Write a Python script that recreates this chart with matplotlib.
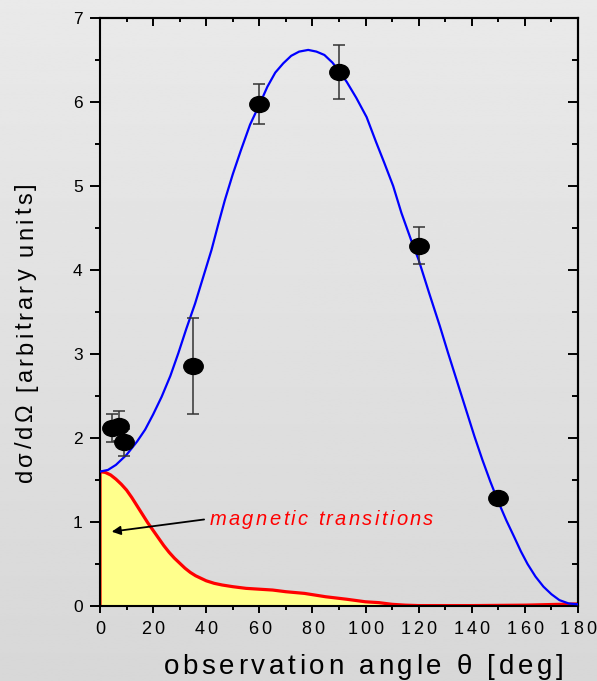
import numpy as np
import matplotlib
matplotlib.use("Agg")
import matplotlib.pyplot as plt
from matplotlib.path import Path
from matplotlib.transforms import Affine2D, offset_copy
from matplotlib.font_manager import FontProperties

plt.rcParams["font.family"] = ["Liberation Sans", "DejaVu Sans"]

# measured points
angles = [4.4, 7.3, 9.1, 35, 60, 90, 120, 150]
values = [2.12, 2.14, 1.95, 2.86, 5.98, 6.36, 4.29, 1.28]
errors = [0.17, 0.18, 0.16, 0.57, 0.24, 0.32, 0.22, 0.0]

# total fit (blue)
fit_deg = [0, 3, 6, 10, 14, 17, 20, 23.2, 26.5, 29.5, 32.5, 35.8, 39, 42, 44.5,
           47, 50, 53, 56.5, 60.2, 63, 66, 69, 72, 75, 78.4, 81.5, 84.5, 87.5,
           90, 92.9, 96.5, 100.4, 104, 107, 110.4, 113.5, 117, 120, 124, 128,
           131, 135, 138, 141, 144, 147, 150, 153, 156, 158.5, 161, 164, 167,
           170, 173, 176.5, 180]
fit_val = [1.60, 1.62, 1.68, 1.80, 1.96, 2.10, 2.28, 2.49, 2.74, 3.01, 3.30, 3.60,
           3.93, 4.24, 4.54, 4.83, 5.14, 5.42, 5.73, 5.98, 6.18, 6.35, 6.46, 6.55,
           6.60, 6.62, 6.60, 6.56, 6.47, 6.37, 6.24, 6.05, 5.82, 5.52, 5.28, 5.00,
           4.68, 4.37, 4.12, 3.72, 3.33, 3.02, 2.62, 2.32, 2.02, 1.74, 1.48, 1.24,
           1.02, 0.82, 0.65, 0.50, 0.35, 0.23, 0.14, 0.07, 0.03, 0.02]

# magnetic part (red)
mag_deg = [0, 0, 2, 4, 6, 8, 10, 12, 14, 16, 18, 20, 22, 24, 26, 28, 30, 32, 34,
           36, 38, 40, 43, 46, 50, 55, 60, 65, 70, 77, 85, 93, 100, 105, 110, 115,
           120, 140, 160, 180]
mag_val = [0, 1.60, 1.59, 1.56, 1.51, 1.45, 1.38, 1.29, 1.19, 1.09, 0.99, 0.90,
           0.81, 0.72, 0.64, 0.57, 0.51, 0.45, 0.40, 0.36, 0.33, 0.30, 0.27, 0.25,
           0.23, 0.21, 0.20, 0.19, 0.17, 0.15, 0.11, 0.08, 0.05, 0.04, 0.02, 0.01,
           0.005, 0.005, 0.01, 0.025]

xticks = [0, 20, 40, 60, 80, 100, 120, 140, 160, 180]
yticks = [0, 1, 2, 3, 4, 5, 6, 7]

fig = plt.figure(figsize=(5.97, 6.81), dpi=100)

# grey gradient background
bg = fig.add_axes([0, 0, 1, 1], zorder=-1)
grad = np.linspace(0.915, 0.845, 256).reshape(-1, 1)
bg.imshow(grad, aspect="auto", cmap="gray", vmin=0, vmax=1, extent=[0, 1, 0, 1])
bg.axis("off")

ax = fig.add_axes([100 / 597, 75 / 681, 478 / 597, 588 / 681])
ax.set_facecolor("none")

ax.fill_between(mag_deg, mag_val, 0, color="#ffff8c", lw=0, zorder=1)
ax.plot(mag_deg, mag_val, color="#ff0000", lw=2.3, zorder=2, solid_joinstyle="round")
ax.plot(fit_deg, fit_val, color="#0000ff", lw=1.6, zorder=3, solid_joinstyle="round")

ellipse = Path.unit_circle().transformed(Affine2D().scale(1.0, 0.82))
ax.errorbar(angles, values, yerr=errors, fmt="none", ecolor="#333333",
            elinewidth=1.1, capsize=4.5, capthick=1.1, zorder=4)
ax.plot(angles, values, ls="none", marker=ellipse, ms=14, color="black", zorder=5)

ax.annotate("", xy=(4.4, 0.885), xytext=(39.2, 1.03),
            arrowprops=dict(arrowstyle="-|>", color="black", lw=1.3,
                            mutation_scale=13, shrinkA=0, shrinkB=0), zorder=6)

ax.set_xlim(0, 180)
ax.set_ylim(0, 7)
ax.set_xticks(xticks)
ax.set_xticks(range(10, 180, 20), minor=True)
ax.set_yticks(yticks)
ax.set_yticks(np.arange(0.5, 7, 1), minor=True)
ax.set_xticklabels([])
ax.set_yticklabels([str(v) for v in yticks], fontsize=12.5)

for s in ax.spines.values():
    s.set_linewidth(1.5)
ax.tick_params(which="both", top=True, right=True, width=1.4)
ax.tick_params(axis="y", which="major", direction="out", length=7, pad=5.5)
ax.tick_params(axis="y", which="minor", direction="out", length=3.5)
ax.tick_params(axis="y", which="both", right=False)
ax.tick_params(axis="x", which="major", direction="out", length=5)
ax.tick_params(axis="x", which="minor", direction="out", length=3)
ax.tick_params(axis="x", which="both", top=False)

# inward ticks on top and right
sec_x = ax.secondary_xaxis("top")
sec_x.set_xticks(xticks)
sec_x.set_xticks(range(10, 180, 20), minor=True)
sec_x.set_xticklabels([])
sec_x.tick_params(which="major", direction="in", length=6, width=1.4)
sec_x.tick_params(which="minor", direction="in", length=3, width=1.4)
sec_x.spines["top"].set_linewidth(1.5)
sec_y = ax.secondary_yaxis("right")
sec_y.set_yticks(yticks)
sec_y.set_yticks(np.arange(0.5, 7, 1), minor=True)
sec_y.set_yticklabels([])
sec_y.tick_params(which="major", direction="in", length=7, width=1.4)
sec_y.tick_params(which="minor", direction="in", length=4, width=1.4)
sec_y.spines["right"].set_linewidth(1.5)

renderer = fig.canvas.get_renderer()


def spaced_text(x, y, s, transform, spacing, size, ha="center", rotation=0,
                style="normal", color="black"):
    # draw text letter by letter to get the wide tracking of the original
    prop = FontProperties(family=["Liberation Sans", "DejaVu Sans"], size=size,
                          style=style)
    bar = renderer.get_text_width_height_descent("|", prop, ismath=False)[0]
    offs = [0.0]
    for i in range(1, len(s)):
        w = renderer.get_text_width_height_descent(s[:i] + "|", prop, ismath=False)[0]
        offs.append(w - bar)
    total = renderer.get_text_width_height_descent(s, prop, ismath=False)[0]
    total += spacing * (len(s) - 1)
    start = -total / 2 if ha == "center" else 0.0
    for i, ch in enumerate(s):
        if ch == " ":
            continue
        d = start + offs[i] + i * spacing
        dx, dy = (d, 0) if rotation == 0 else (0, d)
        tr = offset_copy(transform, fig=fig, x=dx, y=dy, units="dots")
        fig.text(x, y, ch, transform=tr, ha="left", va="baseline",
                 rotation=rotation, rotation_mode="anchor",
                 fontproperties=prop, color=color)


# x tick labels
for t in xticks:
    tr = offset_copy(ax.get_xaxis_transform(), fig=fig, x=0, y=-28, units="dots")
    spaced_text(t, 0, str(t), tr, 3, 13)

spaced_text(363.5 / 597, 1 - 674.5 / 681, "observation angle \u03b8 [deg]",
            fig.transFigure, 3.7, 20)

spaced_text(41.3, 0.965, "magnetic transitions", ax.transData, 2.3, 14.5,
            ha="left", color="#ff0000", style="italic")

spaced_text(32 / 597, 1 - 332.5 / 681, "d\u03c3/d\u03a9 [arbitrary units]",
            fig.transFigure, 3.2, 17, rotation=90)

fig.savefig("out.png", dpi=100)
